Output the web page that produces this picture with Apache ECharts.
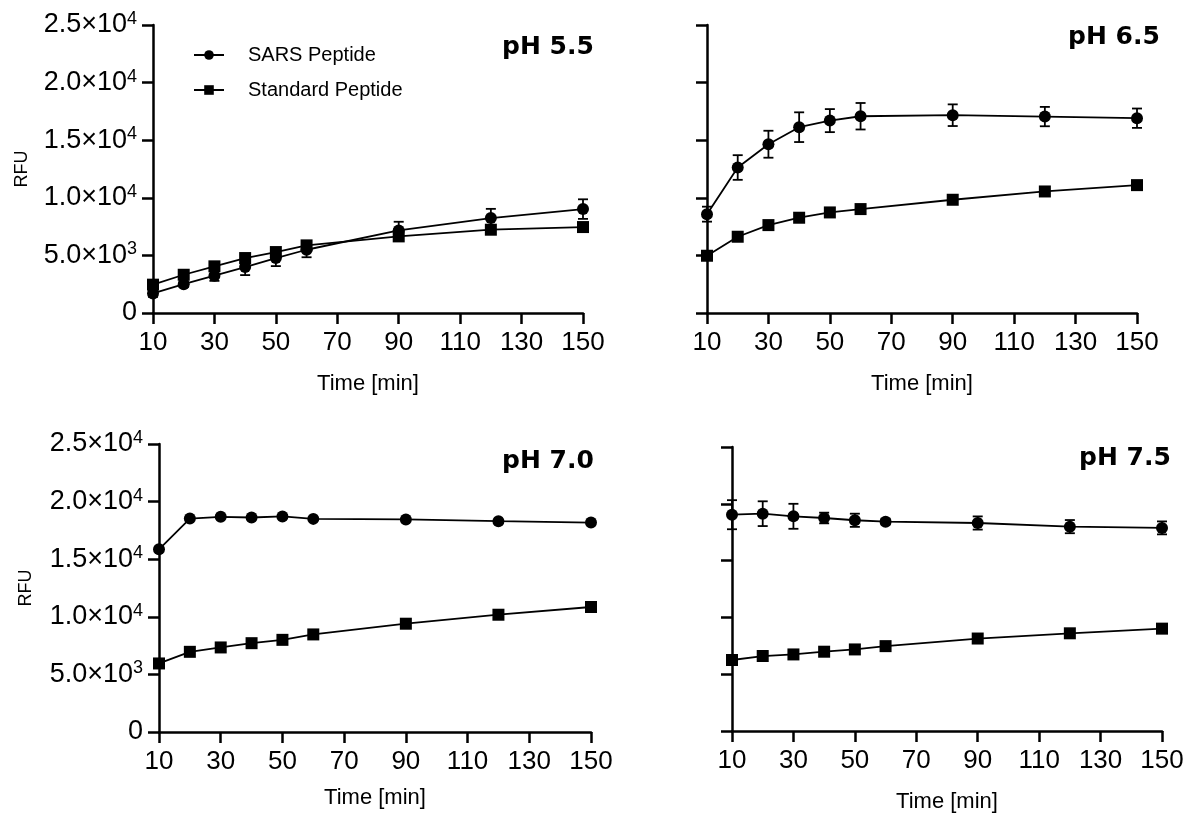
<!DOCTYPE html>
<html>
<head>
<meta charset="utf-8">
<script src="https://cdn.jsdelivr.net/npm/echarts@6/dist/echarts.min.js"></script>
<style>html,body{margin:0;padding:0;background:#fff}#c{width:1187px;height:814px}</style>
</head>
<body>
<div id="c"></div>
<script>
// ---- data ----
const times = [10, 20, 30, 40, 50, 60, 90, 120, 150];
const panelTitles = ['pH 5.5', 'pH 6.5', 'pH 7.0', 'pH 7.5'];
const seriesNames = ['SARS Peptide', 'Standard Peptide'];

const sars55 = [1700, 2500, 3240, 3990, 4770, 5490, 7170, 8240, 9020];
const sars55Err = [300, 250, 450, 700, 700, 650, 750, 800, 850];
const std55 = [2460, 3320, 4050, 4770, 5290, 5870, 6650, 7230, 7460];

const sars65 = [8580, 12630, 14650, 16130, 16700, 17080, 17170, 17050, 16910];
const sars65Err = [650, 1070, 1170, 1290, 1000, 1150, 940, 840, 840];
const std65 = [4970, 6620, 7630, 8270, 8730, 9020, 9830, 10550, 11100];

const sars70 = [15860, 18530, 18680, 18620, 18710, 18500, 18450, 18300, 18180];
const sars70Err = [0, 0, 0, 0, 0, 0, 0, 0, 0];
const std70 = [5950, 6960, 7340, 7710, 8000, 8470, 9400, 10180, 10850];

const sars75 = [19040, 19130, 18900, 18750, 18550, 18430, 18310, 17990, 17880];
const sars75Err = [1280, 1090, 1100, 470, 580, 250, 580, 580, 570];
const std75 = [6250, 6600, 6740, 6980, 7180, 7470, 8140, 8600, 9010];

const panels = [
  {sars: sars55, err: sars55Err, std: std55},
  {sars: sars65, err: sars65Err, std: std65},
  {sars: sars70, err: sars70Err, std: std70},
  {sars: sars75, err: sars75Err, std: std75}
];

// ---- layout ----
const grids = [
  {left: 153, top: 25, width: 430, height: 288},
  {left: 707, top: 25, width: 430, height: 288},
  {left: 159, top: 444, width: 432, height: 288},
  {left: 732, top: 447, width: 430, height: 286}
];
const titlePos = [
  {left: 502, top: 35}, {left: 1068, top: 25}, {left: 502, top: 449}, {left: 1079, top: 446}
];
const showYLabels = [true, false, true, false];
const xNameGap = [60, 60, 55, 60];
const yNameGap = [122, 122, 124, 124];

const FONT = "'Liberation Sans', Arial, sans-serif";

function yFmt(v) {
  if (v === 0) return '{m|0}';
  const e = Math.floor(Math.log10(v));
  const m = (v / Math.pow(10, e)).toFixed(1);
  return '{m|' + m + '×10}{s|' + e + '}';
}

function errItem(params, api) {
  const x = api.value(0), y = api.value(1), e = api.value(2);
  if (!e) return null;
  const t = api.coord([x, y + e]);
  const b = api.coord([x, y - e]);
  const hw = 5;
  const st = {stroke: '#000', lineWidth: 1.8};
  return {
    type: 'group',
    children: [
      {type: 'line', shape: {x1: t[0], y1: t[1], x2: b[0], y2: b[1]}, style: st},
      {type: 'line', shape: {x1: t[0] - hw, y1: t[1], x2: t[0] + hw, y2: t[1]}, style: st},
      {type: 'line', shape: {x1: b[0] - hw, y1: b[1], x2: b[0] + hw, y2: b[1]}, style: st}
    ]
  };
}

const option = {
  backgroundColor: '#fff',
  animation: false,
  title: panelTitles.map((t, i) => ({
    text: t, left: titlePos[i].left, top: titlePos[i].top, padding: 0,
    textStyle: {fontFamily: "'DejaVu Sans', sans-serif", fontWeight: 'bold', fontSize: 25, color: '#000'}
  })),
  legend: {
    data: seriesNames,
    orient: 'vertical',
    left: 193, top: 45, padding: 0,
    itemWidth: 30, itemHeight: 12, itemGap: 15,
    textStyle: {fontFamily: FONT, fontSize: 20, color: '#000', padding: [0, 0, 0, 19]}
  },
  grid: grids,
  xAxis: grids.map((g, i) => ({
    type: 'value', gridIndex: i, min: 10, max: 150, interval: 20,
    name: 'Time [min]', nameLocation: 'middle', nameGap: xNameGap[i],
    nameTextStyle: {fontFamily: FONT, fontSize: 22, color: '#000'},
    axisLine: {lineStyle: {color: '#000', width: 2.5}},
    axisTick: {length: 11, lineStyle: {color: '#000', width: 2.5}},
    axisLabel: {fontFamily: FONT, fontSize: 26, color: '#000', margin: 17},
    splitLine: {show: false}
  })),
  yAxis: grids.map((g, i) => ({
    type: 'value', gridIndex: i, min: 0, max: 25000, interval: 5000,
    name: showYLabels[i] ? 'RFU' : '', nameLocation: 'middle', nameGap: yNameGap[i], nameRotate: 90,
    nameTextStyle: {fontFamily: FONT, fontSize: 18, color: '#000'},
    axisLine: {show: true, lineStyle: {color: '#000', width: 2.5}},
    axisTick: {show: true, length: 11, lineStyle: {color: '#000', width: 2.5}},
    axisLabel: {
      show: showYLabels[i], margin: 16, formatter: yFmt,
      rich: {
        m: {fontFamily: FONT, fontSize: 27, color: '#000', lineHeight: 30},
        s: {fontFamily: FONT, fontSize: 18, color: '#000', verticalAlign: 'top', lineHeight: 15}
      }
    },
    splitLine: {show: false}
  })),
  series: []
};

panels.forEach((p, i) => {
  option.series.push({
    name: 'err' + i, type: 'custom', xAxisIndex: i, yAxisIndex: i, z: 1,
    renderItem: errItem,
    data: times.map((t, k) => [t, p.sars[k], p.err[k]])
  });
  option.series.push({
    name: seriesNames[0], type: 'line', xAxisIndex: i, yAxisIndex: i, z: 3,
    symbol: 'circle', symbolSize: 12,
    lineStyle: {color: '#000', width: 1.8}, itemStyle: {color: '#000'},
    data: times.map((t, k) => [t, p.sars[k]])
  });
  option.series.push({
    name: seriesNames[1], type: 'line', xAxisIndex: i, yAxisIndex: i, z: 3,
    symbol: 'rect', symbolSize: 12,
    lineStyle: {color: '#000', width: 1.8}, itemStyle: {color: '#000'},
    data: times.map((t, k) => [t, p.std[k]])
  });
});

const chart = echarts.init(document.getElementById('c'), null, {renderer: 'canvas'});
chart.setOption(option);
</script>
</body>
</html>
